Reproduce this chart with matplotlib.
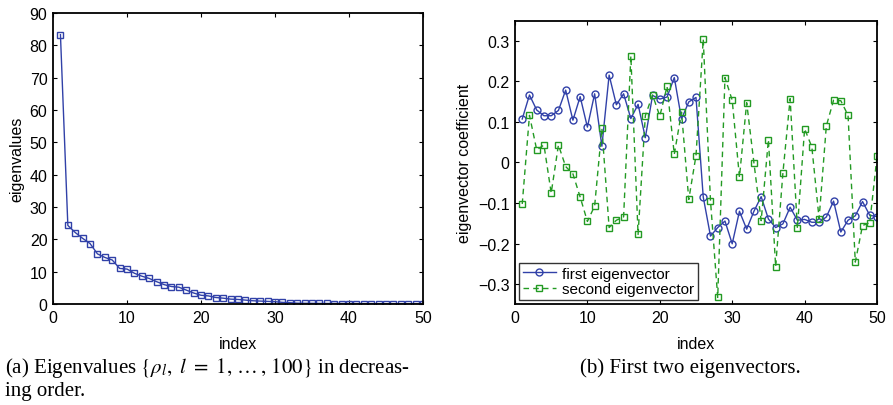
import numpy as np
import matplotlib
matplotlib.use('Agg')
import matplotlib.pyplot as plt

plt.rcParams['font.family'] = ['Liberation Sans', 'DejaVu Sans']
plt.rcParams['mathtext.fontset'] = 'stix'

# eigenvalues in decreasing order (first 50 shown)
eigenvalues = [83.3, 24.3, 22.1, 20.3, 18.7, 15.5, 14.4, 13.6, 11.0, 10.8,
               9.5, 8.6, 7.9, 6.9, 6.0, 5.4, 5.2, 4.3, 3.4, 2.7,
               2.5, 2.0, 1.8, 1.5, 1.4, 1.2, 1.0, 0.9, 0.8, 0.7,
               0.5, 0.4, 0.25, 0.22, 0.2, 0.18, 0.16, 0.15, 0.14, 0.13,
               0.12, 0.11, 0.1, 0.09, 0.08, 0.07, 0.06, 0.06, 0.05, 0.05]

first_vec = [0.107, 0.166, 0.129, 0.115, 0.115, 0.128, 0.178, 0.104, 0.162, 0.087,
             0.169, 0.040, 0.215, 0.142, 0.169, 0.108, 0.143, 0.061, 0.165, 0.156,
             0.161, 0.209, 0.107, 0.149, 0.160, -0.085, -0.181, -0.160, -0.144, -0.200,
             -0.120, -0.164, -0.120, -0.084, -0.139, -0.160, -0.151, -0.110, -0.142, -0.140,
             -0.147, -0.147, -0.134, -0.095, -0.171, -0.142, -0.131, -0.096, -0.130, -0.133]

second_vec = [-0.102, 0.116, 0.031, 0.043, -0.075, 0.043, -0.010, -0.028, -0.085, -0.145,
              -0.107, 0.084, -0.160, -0.142, -0.134, 0.262, -0.177, 0.115, 0.166, 0.114,
              0.187, 0.020, 0.124, -0.091, 0.017, 0.303, -0.094, -0.332, 0.209, 0.153,
              -0.036, 0.147, -0.001, -0.143, 0.056, -0.256, -0.026, 0.157, -0.161, 0.083,
              0.038, -0.138, 0.090, 0.153, 0.152, 0.116, -0.245, -0.155, -0.148, 0.015]

idx = np.arange(1, 51)
blue = '#3141a8'
green = '#239a23'
fs = 11.5

fig = plt.figure(figsize=(8.93, 4.06), dpi=100)


def style(ax):
    ax.tick_params(direction='in', top=True, right=True, length=3,
                   labelsize=fs, width=0.8, pad=4)
    for s in ax.spines.values():
        s.set_linewidth(1.3)


# (a) eigenvalues
ax1 = fig.add_axes([0.0594, 0.2488, 0.4143, 0.7167])
ax1.plot(idx, eigenvalues, color=blue, lw=1.0, marker='s', ms=4,
         mfc='none', mec=blue, mew=1.0)
ax1.set_xlim(0, 50)
ax1.set_ylim(0, 90)
ax1.set_xticks(range(0, 51, 10))
ax1.set_yticks(range(0, 91, 10))
ax1.set_xlabel('index', fontsize=fs, labelpad=8)
ax1.set_ylabel('eigenvalues', fontsize=fs, labelpad=4)
style(ax1)

# (b) first two eigenvectors
ax2 = fig.add_axes([0.5767, 0.2488, 0.4054, 0.697])
ax2.plot(idx, first_vec, color=blue, lw=1.0, marker='o', ms=5,
         mfc='none', mec=blue, mew=1.0, label='first eigenvector')
ax2.plot(idx, second_vec, color=green, lw=1.0, ls=(0, (4, 3)), marker='s', ms=4,
         mfc='none', mec=green, mew=1.0, label='second eigenvector')
ax2.set_xlim(0, 50)
ax2.set_ylim(-0.348, 0.348)
ax2.set_xticks(range(0, 51, 10))
ax2.set_yticks([-0.3, -0.2, -0.1, 0, 0.1, 0.2, 0.3])
ax2.set_yticklabels(['\u22120.3', '\u22120.2', '\u22120.1', '0', '0.1', '0.2', '0.3'])
ax2.set_xlabel('index', fontsize=fs, labelpad=8)
ax2.set_ylabel('eigenvector coefficient', fontsize=fs, labelpad=4)
style(ax2)
leg = ax2.legend(loc='lower left', fontsize=11, frameon=True, fancybox=False,
                 borderpad=0.25, labelspacing=0.1, handlelength=2.2,
                 handletextpad=0.4, borderaxespad=0.25)
leg.get_frame().set_edgecolor('black')
leg.get_frame().set_linewidth(1.0)

# captions
cap = dict(fontsize=15, family=['Liberation Serif', 'DejaVu Serif'], va='baseline')
fig.text(0.006, 0.081,
         r'(a) Eigenvalues $\{\rho_l,\ l\ =\ 1,\,\ldots\,,\,100\}$ in decreas-', **cap)
fig.text(0.006, 0.025, 'ing order.', **cap)
fig.text(0.773, 0.081, '(b) First two eigenvectors.', ha='center', **cap)

fig.savefig('out.png', dpi=100)
